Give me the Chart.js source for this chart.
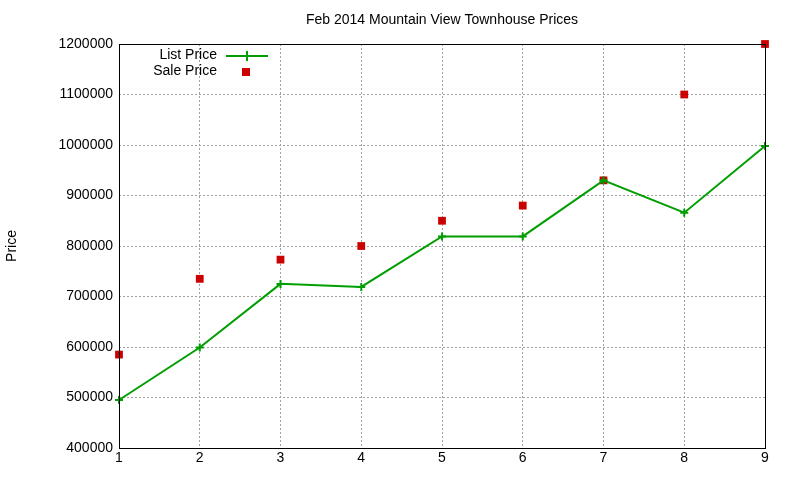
<!DOCTYPE html>
<html><head><meta charset="utf-8">
<script src="https://cdn.jsdelivr.net/npm/chart.js@4"></script>
<style>html,body{margin:0;padding:0;background:#fff}#c{display:block}</style>
</head><body>
<div style="width:800px;height:480px"><canvas id="c"></canvas></div>
<script>
const categories = [1,2,3,4,5,6,7,8,9];
const listPrice = [495000,599000,725000,719000,819000,819000,930000,866000,998000];
const salePrice = [585000,735000,773000,800000,850000,880000,930000,1100000,1200000];
const titleText = 'Feb 2014 Mountain View Townhouse Prices';
const yTitle = 'Price';
const FONT = '"Liberation Sans", Arial, sans-serif';

const extras = {
  id:'extras',
  afterDraw(chart){
    const ctx = chart.ctx, a = chart.chartArea;
    ctx.save();
    ctx.strokeStyle = '#000'; ctx.lineWidth = 1; ctx.setLineDash([]);
    ctx.strokeRect(a.left+0.5, a.top+0.5, a.right-a.left, a.bottom-a.top);
    ctx.fillStyle = '#000';
    ctx.font = '14px ' + FONT;
    ctx.textAlign = 'center'; ctx.textBaseline = 'middle';
    ctx.fillText(titleText, (a.left+a.right)/2, 20);
    ctx.save(); ctx.translate(12, 246); ctx.rotate(-Math.PI/2);
    ctx.fillText(yTitle, 0, 0); ctx.restore();
    const ds = chart.data.datasets;
    ctx.textAlign = 'right';
    ctx.fillText(ds[0].label, 217, 55);
    ctx.fillText(ds[1].label, 217, 71);
    ctx.strokeStyle = ds[0].borderColor; ctx.lineWidth = 2;
    ctx.beginPath(); ctx.moveTo(226, 56); ctx.lineTo(268, 56);
    ctx.moveTo(247, 51); ctx.lineTo(247, 61); ctx.stroke();
    ctx.fillStyle = ds[1].backgroundColor;
    ctx.fillRect(242, 68, 8, 8);
    ctx.restore();
  }
};

new Chart(document.getElementById('c'), {
  type:'line',
  data:{
    labels: categories,
    datasets:[
      {label:'List Price', data: categories.map((x,i)=>({x, y:listPrice[i]})),
       borderColor:'#009e00', backgroundColor:'#009e00', borderWidth:2, clip:false,
       pointStyle:'cross', pointRadius:4, pointBorderWidth:2, tension:0},
      {label:'Sale Price', data: categories.map((x,i)=>({x, y:salePrice[i]})),
       borderColor:'#cc0000', backgroundColor:'#cc0000', showLine:false, clip:false,
       pointStyle:'rect', pointRadius:5.5, pointBorderWidth:0}
    ]
  },
  options:{
    responsive:true, maintainAspectRatio:false, animation:false,
    layout:{padding:{top:44, right:35, left:0, bottom:0}},
    plugins:{legend:{display:false}, title:{display:false}, tooltip:{enabled:false}},
    scales:{
      x:{type:'linear', min:1, max:9,
         ticks:{stepSize:1, color:'#000', font:{size:14, family:FONT}, padding:2},
         grid:{color:'#a0a0a0', drawTicks:false},
         border:{display:false, dash:[2,2]},
         afterFit(s){ s.height = 32; }},
      y:{min:400000, max:1200000,
         ticks:{stepSize:100000, color:'#000', font:{size:14, family:FONT}, padding:6,
                callback:v=>String(v)},
         grid:{color:'#a0a0a0', drawTicks:false},
         border:{display:false, dash:[2,2]},
         afterFit(s){ s.width = 119; }}
    }
  },
  plugins:[extras]
});
</script>
</body></html>
